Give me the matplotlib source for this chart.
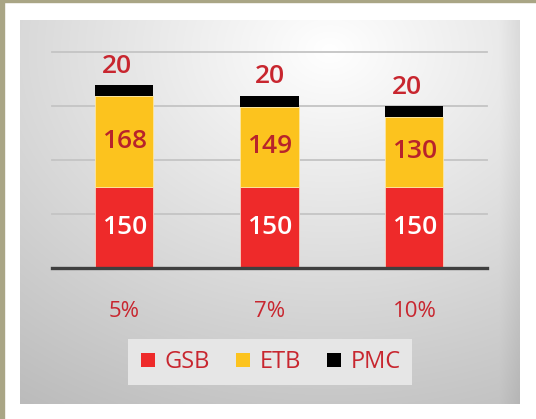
import numpy as np
import matplotlib
matplotlib.use("Agg")
import matplotlib.pyplot as plt
from matplotlib.lines import Line2D
from matplotlib.patches import Rectangle

categories = ["5%", "7%", "10%"]
gsb = [150, 150, 150]
etb = [168, 149, 130]
pmc = [20, 20, 20]
series_names = ["GSB", "ETB", "PMC"]

RED = "#ee2a2a"
YEL = "#fcc31e"
BLK = "#000000"
TXT_RED = "#c8262f"
FONT = ["Open Sans", "DejaVu Sans"]
plt.rcParams["font.family"] = FONT

W, H = 536, 419
fig = plt.figure(figsize=(W / 100, H / 100), dpi=100)
fig.patch.set_facecolor("white")

# olive outer border strips
fig.add_artist(Rectangle((0, 0), 4 / W, 1, transform=fig.transFigure, color="#a9a585", zorder=0))
fig.add_artist(Rectangle((0, 1 - 2 / H), 1, 2 / H, transform=fig.transFigure, color="#a9a585", zorder=0))

# gradient panel
px0, px1, py0, py1 = 20, 520, 20, 404
bg = fig.add_axes([px0 / W, 1 - py1 / H, (px1 - px0) / W, (py1 - py0) / H])
gx, gy = np.meshgrid(np.linspace(0, 1, 300), np.linspace(0, 1, 240))
d = np.sqrt((gx - 0.62) ** 2 + (gy - 0.08) ** 2)
v = np.clip(1.0 - 0.24 * d, 0, 1)
v = v - 0.05 * np.clip((gx - 0.96) / 0.04, 0, 1)
bg.imshow(np.dstack([v, v, v]), aspect="auto", extent=[0, 1, 1, 0], interpolation="bilinear")
bg.set_axis_off()

# main axes
l, r, t, b = 52, 487, 52, 268
ax = fig.add_axes([l / W, 1 - b / H, (r - l) / W, (b - t) / H])
ax.patch.set_alpha(0)
x = np.arange(len(categories))
width = 0.4
ax.bar(x, gsb, width, color=RED, edgecolor="#f6d0c0", linewidth=0.6, zorder=3)
ax.bar(x, etb, width, bottom=gsb, color=YEL, edgecolor="#fde6a0", linewidth=0.6, zorder=3)
bot2 = [a + c for a, c in zip(gsb, etb)]
ax.bar(x, pmc, width, bottom=bot2, color=BLK, zorder=3)

ax.set_xlim(-0.5, len(categories) - 0.5)
ax.set_ylim(0, 400)
for yv in [100, 200, 300, 400]:
    ax.axhline(yv, color="#c4c4c4", lw=1.3, zorder=1, clip_on=False)
ax.axhline(0, color="#3f3f3f", lw=2.4, zorder=4, clip_on=False)

for s in ax.spines.values():
    s.set_visible(False)
ax.set_yticks([])
ax.set_xticks(x)
ax.set_xticklabels(categories, color=TXT_RED, fontsize=16)
ax.tick_params(axis="x", length=0, pad=24)

top_offsets = [-0.055, 0.0, -0.055]
for i in range(len(categories)):
    ax.text(x[i], gsb[i] / 2, str(gsb[i]), ha="center", va="center", color="white",
            fontsize=19, fontweight="semibold", zorder=5)
    ax.text(x[i], gsb[i] + etb[i] / 2, str(etb[i]), ha="center", va="center", color="#b8232b",
            fontsize=19, fontweight="semibold", zorder=5)
    ax.text(x[i] + top_offsets[i], bot2[i] + pmc[i] + 12, str(pmc[i]), ha="center", va="bottom",
            color=TXT_RED, fontsize=19, fontweight="semibold", zorder=5)

handles = [Line2D([], [], ls="none", marker="s", markersize=9.5, color=c, markeredgewidth=0)
           for c in [RED, YEL, BLK]]
leg = fig.legend(handles, series_names, loc="center", bbox_to_anchor=(270 / W, 1 - 362 / H),
                 ncol=3, frameon=True, fontsize=17, handlelength=0.8, handletextpad=0.3,
                 columnspacing=1.0, borderpad=0.45, fancybox=False)
leg.get_frame().set_facecolor("#e6e6e6")
leg.get_frame().set_edgecolor("none")
leg.get_frame().set_alpha(1)
for tx in leg.get_texts():
    tx.set_color(TXT_RED)

fig.savefig("out.png", dpi=100, facecolor=fig.get_facecolor())
